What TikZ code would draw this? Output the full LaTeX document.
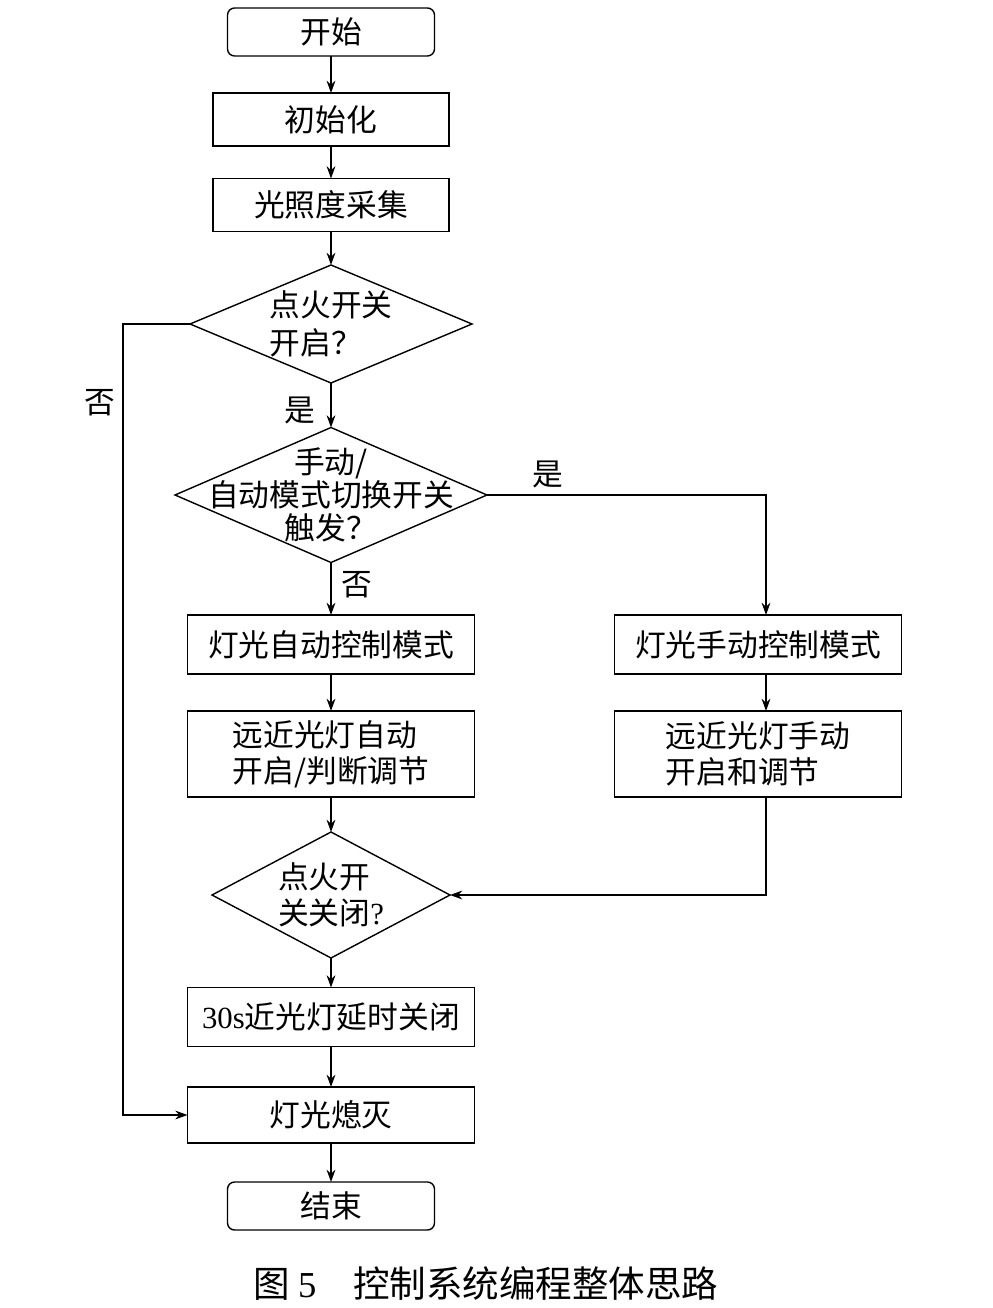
\documentclass[tikz,border=0pt]{standalone}
\usepackage{fontspec}
\setmainfont{Noto Sans CJK SC}
\newfontfamily\latinfont{Liberation Serif}
\usetikzlibrary{arrows.meta,shapes.geometric}
\tikzset{
 >={Stealth[length=7pt,width=5pt]},
 fc line/.style={line width=.8pt},
 fc text/.style={font=\fontsize{17.5}{20.5}\selectfont,inner sep=0pt},
 fc box/.style={fc text,draw,line width=.8pt,minimum width=5.74cm,
                minimum height=1.18cm,outer sep=0pt},
 fc term/.style={fc box,rounded corners=4pt,minimum width=4.14cm,
                 minimum height=.96cm},
 fc step/.style={fc box,minimum width=4.72cm,minimum height=1.06cm},
 fc decision/.style={diamond,draw,line width=.8pt,inner sep=0pt,outer sep=0pt},
 fc label/.style={fc text}
}
\begin{document}
\begin{tikzpicture}[x=.02cm,y=-.02cm]
 \useasboundingbox (0,0) rectangle (992,1308);

 \node[fc term] (start) at (331,32) {开始};
 \node[fc step] (init) at (331,119.5) {初始化};
 \node[fc step] (lux) at (331,205) {光照度采集};
 \node[fc decision,minimum width=5.64cm,minimum height=2.36cm] (ign) at (331,324) {};
 \node[fc text,align=left] (ignt) at (ign) {点火开关\\[1.5pt]开启？};
 \node[fc decision,minimum width=6.24cm,minimum height=2.7cm] (sw) at (331,495) {};
 \node[fc text,align=center,font=\fontsize{17.5}{18.7}\selectfont] (swt) at (sw) {手动/\\自动模式切换开关\\触发？};
 \node[fc box] (auto) at (331,644.5) {灯光自动控制模式};
 \node[fc box,minimum height=1.72cm,align=left] (autoadj) at (331,754) {远近光灯自动\\开启/判断调节};
 \node[fc box] (manual) at (758,644.5) {灯光手动控制模式};
 \node[fc box,minimum height=1.72cm,align=left] (manadj) at (758,754) {远近光灯手动\\开启和调节};
 \node[fc decision,minimum width=4.76cm,minimum height=2.52cm] (off) at (331,895) {};
 \node[fc text,align=left] (offt) at (off) {点火开\\关关闭{\latinfont ?}};
 \node[fc box] (delay) at (331,1017) {{\latinfont 30s}近光灯延时关闭};
 \node[fc box,minimum height=1.12cm] (dark) at (331,1115) {灯光熄灭};
 \node[fc term] (stop) at (331,1206) {结束};

 \coordinate (loopL) at (123,324);
 \coordinate (swR) at (766,495);

 \draw[fc line,->] (start) -- (init);
 \draw[fc line,->] (init) -- (lux);
 \draw[fc line,->] (lux) -- (ign);
 \draw[fc line,->] (ign) -- (sw);
 \draw[fc line,->] (sw) -- (auto);
 \draw[fc line,->] (auto) -- (autoadj);
 \draw[fc line,->] (autoadj) -- (off);
 \draw[fc line,->] (off) -- (delay);
 \draw[fc line,->] (delay) -- (dark);
 \draw[fc line,->] (dark) -- (stop);
 \draw[fc line,->] (ign.west) -- (loopL) |- (dark.west);
 \draw[fc line,->] (sw.east) -- (swR) -- (swR |- manual.north);
 \draw[fc line,->] (manual.south -| swR) -- (swR |- manadj.north);
 \draw[fc line,->] (swR |- manadj.south) |- (off.east);

 \node[fc label] (yes1) at (300,410) {是};
 \node[fc label] (no1) at (100,403) {否};
 \node[fc label] (yes2) at (548,474) {是};
 \node[fc label] (no2) at (357,585) {否};

 \node[font=\fontsize{20.8}{24}\selectfont,inner sep=0pt] (cap) at (486,1283)
   {图 {\latinfont 5}\quad 控制系统编程整体思路};
\end{tikzpicture}
\end{document}
